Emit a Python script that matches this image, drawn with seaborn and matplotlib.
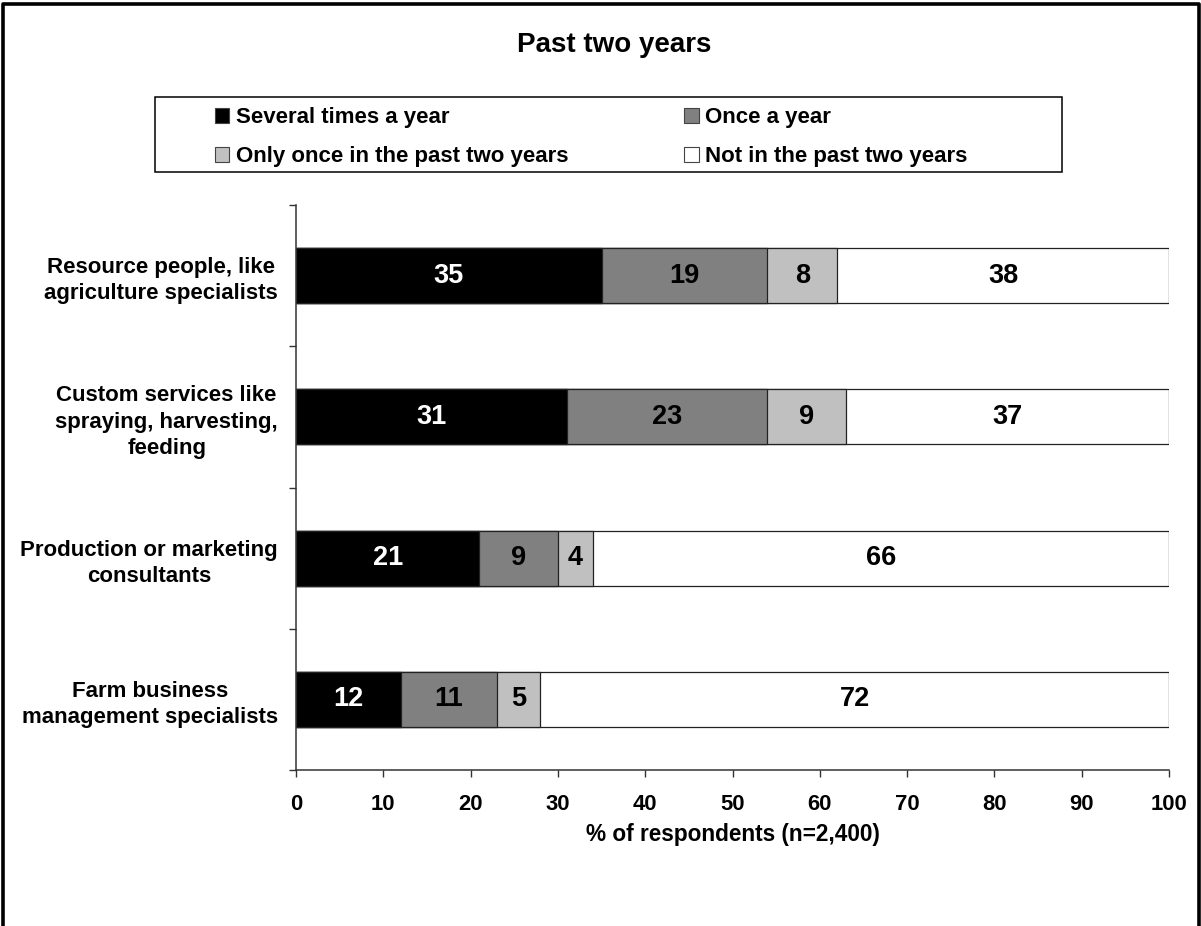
import matplotlib
matplotlib.use("Agg")
import matplotlib.pyplot as plt
import seaborn as sns
import pandas as pd
from matplotlib.patches import Patch, Rectangle
from matplotlib.lines import Line2D

# --- Data ---
categories = [
    "Resource people, like\nagriculture specialists",
    "Custom services like\nspraying, harvesting,\nfeeding",
    "Production or marketing\nconsultants",
    "Farm business\nmanagement specialists",
]
series = [
    "Several times a year",
    "Once a year",
    "Only once in the past two years",
    "Not in the past two years",
]
several = [35, 31, 21, 12]
once = [19, 23, 9, 11]
only_once = [8, 9, 4, 5]
not_past = [38, 37, 66, 72]
colors = ["#000000", "#808080", "#c0c0c0", "#ffffff"]

df = pd.DataFrame({"category": categories,
                   series[0]: several, series[1]: once,
                   series[2]: only_once, series[3]: not_past})
cum = df[series].cumsum(axis=1)

sns.set_style("white")
plt.rcParams["font.family"] = ["Liberation Sans", "DejaVu Sans"]
plt.rcParams["font.weight"] = "bold"
plt.rcParams["text.color"] = "black"
plt.rcParams["axes.labelcolor"] = "black"
plt.rcParams["xtick.color"] = "black"
plt.rcParams["ytick.color"] = "black"

fig = plt.figure(figsize=(12.01, 9.26), dpi=100)
W, H = 1201, 926
ax = fig.add_axes([296 / W, 1 - 770 / H, (1169 - 296) / W, (770 - 205) / H])

# --- Stacked bars (drawn from the total down so each segment overlays) ---
for i in reversed(range(len(series))):
    sns.barplot(x=cum[series[i]], y=df["category"], color=colors[i],
                saturation=1, width=0.39, edgecolor="#222222", linewidth=0.9,
                ax=ax)

# --- Segment labels ---
for j in range(len(categories)):
    left = 0
    for i, s in enumerate(series):
        v = df.loc[j, s]
        ax.text(left + v / 2, j, str(v), ha="center", va="center",
                fontsize=19.5, fontweight="bold",
                color="white" if i == 0 else "black")
        left += v

# --- Axes styling ---
ax.set_xlim(0, 100)
ax.set_xticks(range(0, 101, 10))
ax.set_ylim(3.5, -0.5)
ax.set_yticks(range(len(categories)))
ax.set_yticklabels(categories, fontsize=16, fontweight="bold")
for t in ax.get_yticklabels():
    t.set_multialignment("center")
    t.set_linespacing(1.33)
ax.set_yticks([-0.5, 0.5, 1.5, 2.5, 3.5], minor=True)
ax.tick_params(axis="y", which="major", left=True, length=0, pad=13)
ax.tick_params(axis="y", which="minor", left=True, length=5, width=1,
               color="#333333", direction="out")
ax.tick_params(axis="x", bottom=True, length=5, width=1, color="#333333",
               direction="out", pad=12, labelsize=15.8)
for lab in ax.get_xticklabels():
    lab.set_fontweight("bold")
ax.set_xlabel("% of respondents (n=2,400)", fontsize=16.3, fontweight="bold",
              labelpad=6)
ax.set_ylabel("")
for sp in ["top", "right"]:
    ax.spines[sp].set_visible(False)
for sp in ["left", "bottom"]:
    ax.spines[sp].set_color("#333333")
    ax.spines[sp].set_linewidth(1.1)

# --- Title ---
fig.text(614 / W, 1 - 52 / H, "Past two years", ha="center", va="baseline",
         fontsize=20, fontweight="bold")

# --- Legend ---
order = [0, 2, 1, 3]
handles = [Patch(facecolor=colors[i], edgecolor="#444444", linewidth=0.8)
           for i in order]
labels = [series[i] for i in order]
fig.legend(handles, labels, loc="center left",
           bbox_to_anchor=(215 / W, 1 - 137 / H), ncol=2, frameon=False,
           fontsize=16, handlelength=0.65, handleheight=0.65,
           handletextpad=0.3, columnspacing=5.2, labelspacing=0.8,
           borderpad=0, borderaxespad=0)
fig.add_artist(Rectangle((155 / W, 1 - 172 / H), (1062 - 155) / W, 75 / H,
                         transform=fig.transFigure, fill=False,
                         edgecolor="black", linewidth=1.1))

# --- Figure border (left, top, right) ---
fig.add_artist(Line2D([2.5 / W, 2.5 / W, 1 - 2.5 / W, 1 - 2.5 / W],
                      [0, 1 - 3.5 / H, 1 - 3.5 / H, 0],
                      transform=fig.transFigure, color="black", linewidth=2.6))

fig.savefig("out.png", dpi=100)
